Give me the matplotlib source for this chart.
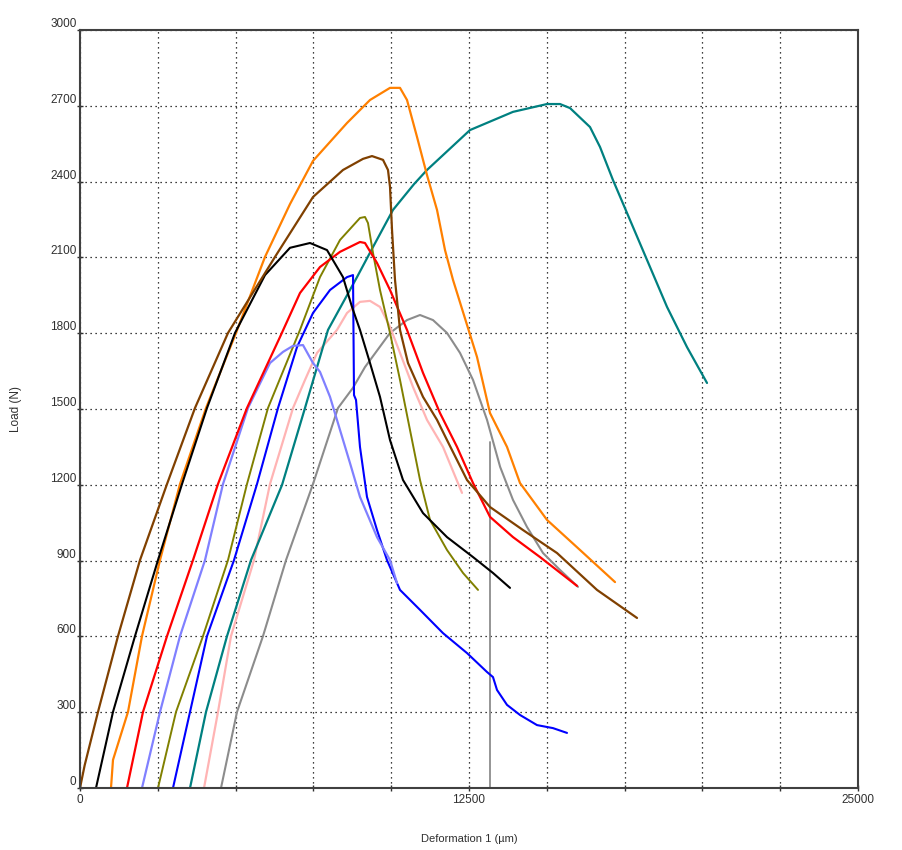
import matplotlib
matplotlib.use("Agg")
import matplotlib.pyplot as plt
from matplotlib.ticker import MultipleLocator

plt.rcParams['font.family'] = ['Liberation Sans', 'DejaVu Sans']

# --- data: load (N) vs deformation (um), one pair of lists per specimen ---
brown_x = [0, 150, 578, 1221, 1928, 2796, 3695, 4756, 6266, 7487, 8451, 9094, 9383, 9737, 9897, 9962,
           10026, 10122, 10283, 10540, 11022, 11472, 11793, 12436, 13175, 14235, 15328, 16613, 17899]
brown_y = [0, 90, 301, 601, 902, 1203, 1504, 1801, 2102, 2339, 2446, 2490, 2501, 2486, 2446, 2379,
           2209, 2011, 1813, 1682, 1548, 1457, 1377, 1219, 1112, 1021, 930, 784, 673]

orange_x = [996, 1060, 1542, 1992, 2571, 3213, 4049, 5013, 5945, 6748, 7487, 8580, 9319, 9962, 10283,
            10508, 10829, 11150, 11472, 11729, 11986, 12757, 13175, 13721, 14139, 15007, 16067, 17192]
orange_y = [0, 111, 301, 601, 902, 1203, 1504, 1801, 2102, 2311, 2482, 2632, 2723, 2771, 2771,
            2723, 2577, 2426, 2288, 2129, 2011, 1706, 1484, 1350, 1207, 1061, 942, 815]

teal_x = [3535, 4049, 4724, 5495, 6491, 7230, 7969, 8901, 9415, 10058, 10733, 11150, 12532, 13914, 15007,
          15424, 15746, 16388, 16710, 17127, 17577, 18220, 18863, 19505, 20148]
teal_y = [0, 301, 601, 902, 1199, 1504, 1813, 2022, 2141, 2288, 2390, 2446, 2604, 2676, 2707,
          2707, 2691, 2616, 2537, 2406, 2276, 2090, 1904, 1745, 1603]

black_x = [514, 1060, 1767, 2506, 3278, 4081, 4981, 5945, 6748, 7391, 7937, 8451, 8740, 8997, 9319,
           9640, 9962, 10379, 11022, 11793, 12629, 13271, 13818]
black_y = [0, 301, 601, 902, 1203, 1504, 1801, 2030, 2138, 2157, 2129, 2022, 1904, 1813, 1682,
           1548, 1377, 1219, 1088, 993, 914, 851, 792]

red_x = [1510, 2024, 2796, 3631, 4434, 5366, 6427, 7069, 7712, 8355, 8997, 9158, 9544, 9962,
         10508, 11022, 11568, 12115, 12629, 13175, 13914, 14782, 15970]
red_y = [0, 301, 601, 902, 1203, 1504, 1785, 1959, 2062, 2122, 2161, 2157, 2078, 1971,
         1813, 1643, 1484, 1350, 1207, 1073, 993, 914, 800]

ltblue_x = [1992, 2571, 3213, 4017, 4595, 5398, 6105, 6523, 6845, 7166, 7487, 7712, 8034, 8355, 8676,
            8997, 9544, 9962, 10186]
ltblue_y = [0, 301, 601, 902, 1203, 1504, 1682, 1726, 1750, 1753, 1682, 1647, 1548, 1417, 1286,
            1152, 993, 902, 811]

olive_x = [2506, 3085, 3952, 4756, 5366, 6041, 7069, 7712, 8355, 8997, 9158, 9254, 9415, 9640,
           9962, 10283, 10604, 10926, 11247, 11793, 12308, 12790]
olive_y = [0, 301, 601, 902, 1203, 1504, 1813, 2022, 2169, 2256, 2260, 2236, 2118, 1971,
           1801, 1615, 1417, 1219, 1061, 942, 851, 784]

blue_x = [2988, 3535, 4081, 4949, 5688, 6363, 6973, 7487, 8034, 8580, 8773, 8805, 8869, 8997,
          9222, 9544, 9865, 10283, 10926, 11664, 12436, 13079, 13271, 13400, 13721, 14139,
          14685, 15199, 15649]
blue_y = [0, 301, 601, 902, 1203, 1504, 1745, 1880, 1971, 2022, 2030, 1555, 1536, 1350,
          1152, 1021, 902, 784, 705, 613, 534, 459, 439, 388, 329, 289,
          249, 237, 218]

pink_x = [3985, 4434, 4852, 5591, 6105, 6845, 7230, 7616, 8258, 8580, 8997, 9319, 9640, 9962, 10283,
          10701, 11150, 11664, 12275]
pink_y = [0, 301, 601, 902, 1203, 1504, 1615, 1722, 1813, 1880, 1924, 1928, 1904, 1825, 1722,
          1587, 1457, 1350, 1168]

gray_x = [4531, 5045, 5880, 6620, 7487, 8291, 8773, 9158, 9962, 10508, 10926, 11343, 11793, 12211,
          12629, 13079, 13500, 13914, 14364, 14878, 15424, 16003]
gray_y = [0, 301, 601, 902, 1203, 1504, 1584, 1666, 1801, 1852, 1872, 1852, 1801, 1722,
          1615, 1457, 1271, 1140, 1033, 930, 863, 796]

# vertical trace of a specimen that broke at once
drop_x = [13175, 13175]
drop_y = [0, 1370]

series = [
    (drop_x, drop_y, '#8c8c8c', 1.3),
    (gray_x, gray_y, '#8c8c8c', 1.5),
    (pink_x, pink_y, '#ffb4b4', 1.6),
    (teal_x, teal_y, '#008080', 1.6),
    (blue_x, blue_y, '#0000ff', 1.5),
    (olive_x, olive_y, '#808000', 1.4),
    (ltblue_x, ltblue_y, '#8080ff', 1.6),
    (red_x, red_y, '#ff0000', 1.6),
    (orange_x, orange_y, '#ff8000', 1.6),
    (black_x, black_y, '#000000', 1.5),
    (brown_x, brown_y, '#804000', 1.6),
]

fig = plt.figure(figsize=(9.02, 8.5), dpi=100)
ax = fig.add_axes([80 / 902, 62 / 850, 778 / 902, 758 / 850])

for xs, ys, col, lw in series:
    ax.plot(xs, ys, color=col, lw=lw, solid_joinstyle='round', solid_capstyle='round')

ax.set_xlim(0, 25000)
ax.set_ylim(0, 3000)
ax.yaxis.set_major_locator(MultipleLocator(300))
ax.set_xticks([0, 2500, 5000, 7500, 10000, 12500, 15000, 17500, 20000, 22500, 25000])
ax.set_xticklabels(['0', '', '', '', '', '12500', '', '', '', '', '25000'])
ax.grid(True, color='black', linestyle=(0, (1, 3)), lw=0.9)
ax.tick_params(axis='both', direction='inout', length=5, width=1, color='#303030',
               labelsize=8.5, labelcolor='#303030')
ax.tick_params(axis='y', pad=0)
ax.tick_params(axis='x', pad=2)
for lab in ax.get_yticklabels():
    lab.set_va('bottom')

for s in ax.spines.values():
    s.set_color('#404040')
    s.set_linewidth(1.5)

ax.set_xlabel('Deformation 1 (µm)', fontsize=8, color='#303030')
ax.set_ylabel('Load (N)', fontsize=8.5, color='#303030')
ax.xaxis.set_label_coords(0.5, -0.061)
ax.yaxis.set_label_coords(-0.075, 0.5)

fig.savefig('out.png', dpi=100)
